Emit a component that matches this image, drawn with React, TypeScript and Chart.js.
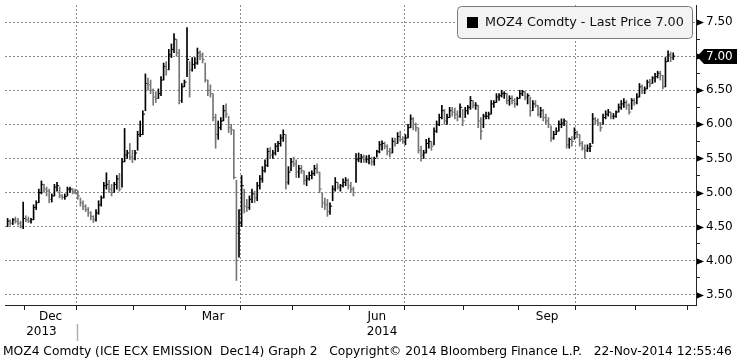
import React, { useEffect, useRef } from 'react';
import { Chart, registerables } from 'chart.js';

Chart.register(...registerables);

// ---- Data (daily bars, MOZ4 Comdty, from 21-Nov-2013 to 21-Nov-2014) ----
const highs = [
  4.62, 4.60, 4.62, 4.64, 4.62, 4.58, 4.86, 4.66, 4.64, 4.62, 4.82, 4.88, 5.05, 5.17, 5.12, 5.08, 5.05, 4.98, 5.12, 5.15,
  5.08, 4.97, 4.98, 5.08, 5.08, 5.06, 5.05, 5.03, 4.92, 4.88, 4.82, 4.78, 4.72, 4.66, 4.75, 4.88, 4.95, 5.15, 5.29, 5.18,
  5.12, 5.15, 5.25, 5.28, 5.50, 5.94, 5.62, 5.72, 5.62, 5.62, 5.90, 6.05, 6.20, 6.74, 6.68, 6.65, 6.52, 6.48, 6.52, 6.70,
  6.90, 6.92, 7.10, 7.18, 7.33, 7.25, 7.10, 6.60, 6.65, 7.42, 6.92, 6.98, 6.98, 7.12, 7.08, 7.05, 6.90, 6.65, 6.58, 6.45,
  6.15, 6.05, 6.10, 6.28, 6.30, 6.12, 6.00, 5.92, 5.18, 4.75, 5.25, 5.05, 4.90, 4.95, 5.05, 5.02, 5.15, 5.25, 5.38, 5.48,
  5.65, 5.66, 5.62, 5.72, 5.75, 5.85, 5.92, 5.85, 5.38, 5.50, 5.52, 5.48, 5.40, 5.40, 5.32, 5.25, 5.30, 5.32, 5.40, 5.42,
  5.30, 5.00, 4.92, 4.90, 4.85, 5.10, 5.22, 5.15, 5.12, 5.20, 5.22, 5.20, 5.15, 5.08, 5.57, 5.58, 5.56, 5.55, 5.54, 5.55,
  5.52, 5.52, 5.62, 5.75, 5.76, 5.74, 5.70, 5.65, 5.80, 5.80, 5.88, 5.90, 5.82, 5.85, 6.00, 6.14, 6.10, 6.02, 5.95, 5.68,
  5.62, 5.78, 5.80, 5.75, 5.95, 6.05, 6.15, 6.28, 6.22, 6.15, 6.25, 6.25, 6.24, 6.20, 6.30, 6.22, 6.25, 6.28, 6.41, 6.35,
  6.32, 6.28, 6.10, 6.15, 6.18, 6.18, 6.35, 6.35, 6.45, 6.45, 6.50, 6.48, 6.46, 6.42, 6.42, 6.38, 6.40, 6.50, 6.50, 6.48,
  6.45, 6.40, 6.35, 6.35, 6.28, 6.25, 6.22, 6.15, 6.10, 5.98, 5.90, 5.95, 6.05, 6.08, 6.08, 6.05, 5.80, 5.82, 5.95, 5.90,
  5.85, 5.75, 5.70, 5.70, 5.72, 6.16, 6.10, 6.08, 6.03, 6.15, 6.20, 6.22, 6.18, 6.16, 6.20, 6.30, 6.35, 6.38, 6.35, 6.30,
  6.38, 6.38, 6.45, 6.60, 6.58, 6.55, 6.65, 6.66, 6.70, 6.75, 6.78, 6.78, 6.72, 6.98, 7.08, 7.06, 7.05,
];
const lows = [
  4.50, 4.52, 4.53, 4.55, 4.52, 4.48, 4.47, 4.57, 4.56, 4.55, 4.60, 4.75, 4.85, 4.98, 5.00, 4.95, 4.85, 4.86, 4.95, 5.02,
  4.92, 4.90, 4.90, 4.95, 5.00, 4.98, 4.98, 4.90, 4.80, 4.75, 4.72, 4.65, 4.60, 4.56, 4.58, 4.68, 4.80, 4.92, 5.05, 5.00,
  4.95, 5.00, 5.05, 5.02, 5.08, 5.45, 5.50, 5.48, 5.44, 5.48, 5.62, 5.82, 5.85, 6.20, 6.50, 6.45, 6.28, 6.32, 6.38, 6.42,
  6.65, 6.72, 6.80, 6.98, 7.05, 7.00, 6.30, 6.32, 6.55, 6.70, 6.40, 6.78, 6.82, 6.88, 6.95, 6.90, 6.62, 6.42, 6.40, 6.05,
  5.65, 5.78, 5.92, 6.05, 6.10, 5.88, 5.85, 5.20, 3.71, 4.05, 4.50, 4.70, 4.72, 4.75, 4.85, 4.85, 4.88, 5.05, 5.15, 5.30,
  5.38, 5.50, 5.50, 5.55, 5.60, 5.68, 5.75, 5.05, 5.12, 5.32, 5.38, 5.22, 5.22, 5.28, 5.12, 5.10, 5.18, 5.20, 5.25, 5.28,
  5.00, 4.78, 4.75, 4.65, 4.68, 4.88, 5.02, 5.05, 5.02, 5.08, 5.10, 5.05, 5.00, 4.95, 5.15, 5.45, 5.44, 5.44, 5.44, 5.42,
  5.40, 5.40, 5.52, 5.58, 5.62, 5.64, 5.55, 5.52, 5.58, 5.68, 5.72, 5.75, 5.72, 5.70, 5.80, 5.95, 5.92, 5.90, 5.58, 5.46,
  5.50, 5.58, 5.65, 5.62, 5.70, 5.88, 5.98, 6.08, 6.00, 6.00, 6.10, 6.12, 6.08, 6.05, 6.10, 5.98, 6.10, 6.15, 6.22, 6.24,
  6.22, 5.95, 5.78, 5.95, 6.08, 6.08, 6.15, 6.25, 6.32, 6.35, 6.40, 6.38, 6.30, 6.28, 6.30, 6.25, 6.28, 6.38, 6.42, 6.36,
  6.30, 6.12, 6.20, 6.25, 6.12, 6.10, 6.05, 6.00, 5.95, 5.75, 5.78, 5.85, 5.90, 5.95, 5.98, 5.65, 5.65, 5.68, 5.78, 5.80,
  5.68, 5.62, 5.50, 5.60, 5.60, 5.72, 6.00, 5.98, 5.90, 6.00, 6.08, 6.12, 6.08, 6.08, 6.10, 6.18, 6.22, 6.25, 6.22, 6.15,
  6.22, 6.28, 6.30, 6.40, 6.45, 6.45, 6.52, 6.55, 6.60, 6.62, 6.68, 6.65, 6.52, 6.55, 6.92, 6.92, 6.95,
];
const closes = [
  4.58, 4.55, 4.60, 4.58, 4.55, 4.50, 4.62, 4.60, 4.58, 4.60, 4.78, 4.85, 5.00, 5.12, 5.05, 5.02, 4.90, 4.95, 5.08, 5.10,
  4.95, 4.93, 4.94, 5.05, 5.05, 5.02, 5.00, 4.95, 4.85, 4.80, 4.75, 4.70, 4.65, 4.60, 4.70, 4.82, 4.92, 5.10, 5.12, 5.05,
  5.00, 5.12, 5.20, 5.05, 5.45, 5.55, 5.58, 5.52, 5.50, 5.58, 5.85, 5.85, 6.15, 6.60, 6.58, 6.50, 6.40, 6.38, 6.45, 6.65,
  6.85, 6.80, 7.02, 7.10, 7.25, 7.05, 6.35, 6.55, 6.62, 6.95, 6.80, 6.88, 6.90, 7.05, 7.02, 6.95, 6.65, 6.50, 6.45, 6.10,
  5.85, 5.95, 6.05, 6.20, 6.15, 5.95, 5.92, 5.22, 4.40, 4.55, 5.10, 4.80, 4.78, 4.90, 4.98, 4.92, 5.10, 5.20, 5.32, 5.40,
  5.60, 5.55, 5.58, 5.68, 5.72, 5.80, 5.85, 5.15, 5.30, 5.45, 5.42, 5.30, 5.35, 5.32, 5.18, 5.20, 5.25, 5.28, 5.35, 5.30,
  5.05, 4.85, 4.82, 4.72, 4.80, 5.05, 5.15, 5.08, 5.10, 5.15, 5.18, 5.10, 5.05, 5.00, 5.48, 5.50, 5.52, 5.48, 5.49, 5.50,
  5.45, 5.50, 5.60, 5.70, 5.72, 5.68, 5.60, 5.58, 5.75, 5.72, 5.82, 5.78, 5.75, 5.80, 5.95, 6.08, 6.00, 5.95, 5.62, 5.55,
  5.58, 5.72, 5.75, 5.68, 5.90, 6.00, 6.10, 6.20, 6.05, 6.10, 6.20, 6.18, 6.15, 6.12, 6.25, 6.05, 6.20, 6.25, 6.35, 6.28,
  6.28, 6.05, 5.90, 6.12, 6.12, 6.15, 6.30, 6.32, 6.40, 6.42, 6.45, 6.45, 6.35, 6.38, 6.35, 6.30, 6.38, 6.45, 6.48, 6.40,
  6.42, 6.20, 6.30, 6.28, 6.15, 6.20, 6.10, 6.05, 6.00, 5.80, 5.85, 5.90, 6.00, 6.02, 6.05, 5.70, 5.78, 5.75, 5.88, 5.85,
  5.72, 5.65, 5.62, 5.65, 5.68, 6.08, 6.05, 6.02, 5.95, 6.10, 6.15, 6.18, 6.12, 6.12, 6.18, 6.25, 6.30, 6.32, 6.28, 6.18,
  6.35, 6.32, 6.40, 6.55, 6.50, 6.52, 6.62, 6.60, 6.68, 6.70, 6.75, 6.72, 6.55, 6.92, 7.02, 6.98, 7.00,
];

// Calendar: trading days per month, first entry is the partial month at the start of the series
const monthNames = ['Nov', 'Dec', 'Jan', 'Feb', 'Mar', 'Apr', 'May', 'Jun', 'Jul', 'Aug', 'Sep', 'Oct', 'Nov'];
const monthYears = [2013, 2013, 2014, 2014, 2014, 2014, 2014, 2014, 2014, 2014, 2014, 2014, 2014];
const monthTradingDays = [7, 20, 22, 20, 21, 20, 22, 21, 23, 21, 22, 23, 20];
const labelledMonths = ['Mar', 'Jun', 'Sep', 'Dec'];
const quarterStartMonths = ['Jan', 'Apr', 'Jul', 'Oct'];
const yMajorTicks = [3.5, 4.0, 4.5, 5.0, 5.5, 6.0, 6.5, 7.0, 7.5];

const tickerName = 'MOZ4 Comdty';
const seriesName = 'Last Price';
const footerText =
  'MOZ4 Comdty (ICE ECX EMISSION  Dec14) Graph 2   Copyright\u00A9 2014 Bloomberg Finance L.P.   22-Nov-2014 12:55:46';

// ---- Derived helpers ----
const X_MIN = -1;
const X_MAX = 264.75;
const Y_MIN = 3.35;
const Y_MAX = 7.751;
const FONT = 'DejaVu Sans';
const lastClose = closes[closes.length - 1];

const monthStarts: number[] = [];
{
  let acc = 0;
  for (const d of monthTradingDays) {
    monthStarts.push(acc);
    acc += d;
  }
  monthStarts.push(acc);
}
type XTickMeta = { kind: 'boundary' | 'label'; grid: boolean; label: string };
const xTickMeta = new Map<string, XTickMeta>();
const key = (v: number) => v.toFixed(3);
for (let k = 1; k < monthStarts.length; k++) {
  const b = monthStarts[k] - 0.5;
  const nextMonth = monthNames[k] ?? 'Dec';
  xTickMeta.set(key(b), { kind: 'boundary', grid: quarterStartMonths.includes(nextMonth), label: '' });
}
for (let k = 0; k < monthNames.length; k++) {
  const c = (monthStarts[k] + monthStarts[k + 1] - 1) / 2;
  if (labelledMonths.includes(monthNames[k]) && c > X_MIN && c < X_MAX) {
    xTickMeta.set(key(c), { kind: 'label', grid: false, label: monthNames[k] });
  }
}
const xTickValues = Array.from(xTickMeta.keys()).map(Number).sort((a, b) => a - b);

const yTickValues: number[] = [];
for (let i = 0; i < yMajorTicks.length; i++) {
  yTickValues.push(yMajorTicks[i]);
  if (i < yMajorTicks.length - 1) yTickValues.push((yMajorTicks[i] + yMajorTicks[i + 1]) / 2);
}
yTickValues.sort((a, b) => a - b);
const isMajor = (v: number) => yMajorTicks.some((m) => Math.abs(m - v) < 1e-6);

// year boundaries
const yearSpans: { year: number; from: number; to: number }[] = [];
for (let k = 0; k < monthYears.length; k++) {
  const start = monthStarts[k] - 0.5;
  const end = monthStarts[k + 1] - 0.5;
  const last = yearSpans[yearSpans.length - 1];
  if (last && last.year === monthYears[k]) last.to = end;
  else yearSpans.push({ year: monthYears[k], from: start, to: end });
}

const BLACK = '#000000';
const GRAY = '#767676';
const barColors = closes.map((c, i) => (i > 0 && c < closes[i - 1] ? GRAY : BLACK));

const decorPlugin = {
  id: 'bbgDecor',
  afterDraw(chart: any) {
    const { ctx, chartArea } = chart;
    const x = chart.scales.x;
    const y = chart.scales.y;
    ctx.save();

    // y axis arrow markers at major ticks
    ctx.fillStyle = '#000';
    for (const v of yMajorTicks) {
      const py = Math.round(y.getPixelForValue(v)) + 0.5;
      ctx.beginPath();
      ctx.moveTo(chartArea.right + 1, py - 3);
      ctx.lineTo(chartArea.right + 1, py + 3);
      ctx.lineTo(chartArea.right + 8, py);
      ctx.closePath();
      ctx.fill();
    }

    // last price badge
    const by = Math.round(y.getPixelForValue(lastClose)) + 0.5;
    const bx = chartArea.right + 1;
    ctx.beginPath();
    ctx.moveTo(bx, by);
    ctx.lineTo(bx + 7, by - 7.5);
    ctx.lineTo(bx + 40, by - 7.5);
    ctx.lineTo(bx + 40, by + 7.5);
    ctx.lineTo(bx + 7, by + 7.5);
    ctx.closePath();
    ctx.fillStyle = '#000';
    ctx.fill();
    ctx.fillStyle = '#fff';
    ctx.font = `12px "${FONT}"`;
    ctx.textAlign = 'left';
    ctx.textBaseline = 'middle';
    ctx.fillText(lastClose.toFixed(2), bx + 9, by + 0.5);

    // legend box
    const lx = 457.5, ly = 6.5, lw = 235, lh = 32;
    ctx.beginPath();
    (ctx as any).roundRect(lx, ly, lw, lh, 4);
    ctx.fillStyle = '#f3f3f3';
    ctx.fill();
    ctx.strokeStyle = '#7a7a7a';
    ctx.lineWidth = 1;
    ctx.stroke();
    ctx.fillStyle = '#000';
    ctx.fillRect(467, 17, 11, 11);
    const legendText = `${tickerName} - ${seriesName} ${lastClose.toFixed(2)}`;
    ctx.font = `13px "${FONT}"`;
    const lwMeasured = ctx.measureText(legendText).width;
    const lSize = 13 * (199 / lwMeasured);
    ctx.font = `${lSize.toFixed(2)}px "${FONT}"`;
    ctx.fillStyle = '#111';
    ctx.textBaseline = 'middle';
    ctx.fillText(legendText, 485, 23);

    // year labels and separators
    ctx.font = `12px "${FONT}"`;
    ctx.textAlign = 'center';
    ctx.fillStyle = '#000';
    yearSpans.forEach((s, i) => {
      const a = Math.max(s.from, X_MIN);
      const b = Math.min(s.to, X_MAX);
      if (b <= a) return;
      const cx = (x.getPixelForValue(a) + x.getPixelForValue(b)) / 2;
      ctx.fillText(String(s.year), cx, 332);
      if (i > 0) {
        const sx = Math.round(x.getPixelForValue(s.from)) + 0.5;
        ctx.strokeStyle = '#b0b0b0';
        ctx.lineWidth = 1.5;
        ctx.beginPath();
        ctx.moveTo(sx, 324);
        ctx.lineTo(sx, 341);
        ctx.stroke();
      }
    });

    // footer
    ctx.font = `12px "${FONT}"`;
    const fw = ctx.measureText(footerText).width;
    const fSize = 12 * (730 / fw);
    ctx.font = `${fSize.toFixed(2)}px "${FONT}"`;
    ctx.textAlign = 'left';
    ctx.fillStyle = '#000';
    ctx.fillText(footerText, 3, 352);

    ctx.restore();
  },
};

export default function App() {
  const canvasRef = useRef<HTMLCanvasElement>(null);

  useEffect(() => {
    if (!canvasRef.current) return;
    Chart.defaults.font.family = FONT;
    const chart = new Chart(canvasRef.current, {
      type: 'bar',
      data: {
        datasets: [
          {
            type: 'bar',
            label: 'High-Low',
            data: closes.map((_, i) => ({ x: i, y: [lows[i], highs[i]] })) as any,
            backgroundColor: barColors,
            borderWidth: 0,
            barThickness: 1,
            grouped: false,
          } as any,
          {
            type: 'scatter',
            label: 'Close',
            data: closes.map((c, i) => ({ x: i, y: c })),
            pointStyle: 'dash',
            pointRadius: 2.2,
            pointBorderWidth: 1,
            pointBorderColor: barColors,
            pointBackgroundColor: barColors,
            showLine: false,
          } as any,
        ],
      },
      options: {
        animation: false,
        responsive: false,
        devicePixelRatio: 1,
        events: [],
        layout: { padding: { left: 0, right: 0, top: 2, bottom: 0 } },
        plugins: {
          legend: { display: false },
          tooltip: { enabled: false },
          title: { display: false },
        },
        scales: {
          x: {
            type: 'linear',
            min: X_MIN,
            max: X_MAX,
            offset: false,
            afterBuildTicks: (s: any) => {
              s.ticks = xTickValues.map((v) => ({ value: v }));
            },
            afterFit: (s: any) => {
              s.height = 54;
              s.paddingLeft = 0;
              s.paddingRight = 0;
            },
            ticks: {
              autoSkip: false,
              maxRotation: 0,
              minRotation: 0,
              padding: 0,
              color: '#000',
              font: { family: FONT, size: 12 },
              callback: (v: any) => xTickMeta.get(key(Number(v)))?.label ?? '',
            },
            grid: {
              offset: false,
              lineWidth: 1,
              tickLength: 5,
              color: (c: any) => {
                const m = c.tick ? xTickMeta.get(key(c.tick.value)) : undefined;
                return m && m.grid ? '#8a8a8a' : 'rgba(0,0,0,0)';
              },
              tickColor: (c: any) => {
                const m = c.tick ? xTickMeta.get(key(c.tick.value)) : undefined;
                return m && m.kind === 'boundary' ? '#222' : 'rgba(0,0,0,0)';
              },
            },
            border: { display: true, color: '#222', width: 1, dash: [2, 2] },
          } as any,
          y: {
            type: 'linear',
            position: 'right',
            min: Y_MIN,
            max: Y_MAX,
            afterBuildTicks: (s: any) => {
              s.ticks = yTickValues.map((v) => ({ value: v }));
            },
            afterFit: (s: any) => {
              s.width = 45;
              s.paddingTop = 0;
              s.paddingBottom = 0;
            },
            ticks: {
              autoSkip: false,
              padding: 6,
              color: '#000',
              font: { family: FONT, size: 12 },
              callback: (v: any) => {
                const n = Number(v);
                if (!isMajor(n)) return '';
                if (Math.abs(n - lastClose) < 0.125) return '';
                return n.toFixed(2);
              },
            },
            grid: {
              lineWidth: 1,
              tickLength: 4,
              color: (c: any) => (c.tick && isMajor(c.tick.value) ? '#8a8a8a' : 'rgba(0,0,0,0)'),
              tickColor: '#222',
            },
            border: { display: true, color: '#222', width: 1, dash: [2, 2] },
          } as any,
        },
      },
      plugins: [decorPlugin],
    } as any);
    return () => chart.destroy();
  }, []);

  return (
    <div style={{ position: 'fixed', left: 0, top: 0, width: 741, height: 359, background: '#fff' }}>
      <canvas ref={canvasRef} width={741} height={359} style={{ display: 'block' }} />
    </div>
  );
}
